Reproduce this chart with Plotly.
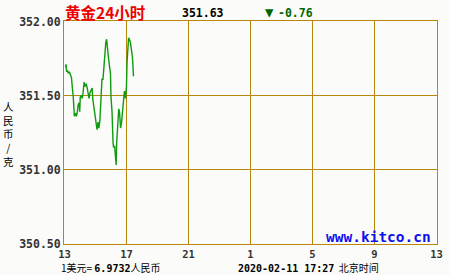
import plotly.graph_objects as go

# minutes after 13:00 (2020-02-10) and gold price (CNY/g)
minutes = [4, 6, 8, 11, 15, 19, 23, 27, 30, 34, 38, 42, 46, 50, 53, 57, 59, 61, 65, 69,
           72, 76, 80, 84, 88, 91, 95, 99, 103, 107, 110, 114, 118, 122, 126, 130, 133, 137, 139, 141,
           145, 149, 152, 156, 160, 163, 166, 170, 174, 178, 180, 184, 188, 190, 194, 198, 200, 202, 206, 210,
           213, 217, 221, 225, 229, 232, 236, 240, 242, 244, 248, 251, 255, 259, 263, 267]
prices = [351.69, 351.71, 351.66, 351.67, 351.65, 351.66, 351.64, 351.62, 351.56, 351.49,
          351.36, 351.38, 351.36, 351.39, 351.44, 351.45, 351.39, 351.49, 351.50, 351.48,
          351.52, 351.59, 351.56, 351.58, 351.55, 351.50, 351.48, 351.52, 351.54, 351.55,
          351.47, 351.41, 351.36, 351.30, 351.27, 351.32, 351.28, 351.33, 351.39, 351.47,
          351.61, 351.61, 351.69, 351.83, 351.86, 351.88, 351.81, 351.76, 351.70, 351.65,
          351.49, 351.39, 351.18, 351.15, 351.16, 351.06, 351.03, 351.18, 351.32, 351.41,
          351.39, 351.28, 351.32, 351.39, 351.49, 351.53, 351.48, 351.56, 351.72, 351.81,
          351.89, 351.88, 351.86, 351.81, 351.76, 351.63]

x_tickvals = [13, 17, 21, 25, 29, 33, 37]
x_ticktext = ["13", "17", "21", "1", "5", "9", "13"]
y_tickvals = [350.5, 351.0, 351.5, 352.0]

title_text = "黄金24小时"
last_price = "351.63"
change_text = "-0.76"
rate_text = "6.9732"
stamp_text = "2020-02-11 17:27"
ylabel_chars = ["人", "民", "币", "/", "克"]

hours = [13 + m / 60 for m in minutes]

GRID = "#b8860b"
MONO = "DejaVu Sans Mono"
CJK = "Noto Sans CJK SC"

# plot area 379 x 223 px: 63 px per 4 h, 74 px per 0.5; ticks sit on half pixels so 1px grid lines stay crisp
L, T, W, H = 64, 21, 379, 223
x_px_per_unit = 63 / 4
y_px_per_unit = 74 / 0.5
x_min = 13.0 - 0.5 / x_px_per_unit
x_max = x_min + W / x_px_per_unit
y_min = 350.5 - 0.5 / y_px_per_unit
y_max = y_min + H / y_px_per_unit


def py(pix):
    return (T + H - pix) / H


def px(pix):
    return (pix - L) / W


fig = go.Figure()
fig.add_trace(go.Scatter(x=hours, y=prices, mode="lines",
                         line=dict(color="#109a10", width=1.4), hoverinfo="skip"))

fig.update_layout(
    width=450, height=275,
    margin=dict(l=L, r=450 - L - W, t=T, b=275 - T - H),
    paper_bgcolor="#fbfcf9", plot_bgcolor="#fbfcf9",
    showlegend=False,
    xaxis=dict(range=[x_min, x_max], tickvals=x_tickvals, ticktext=x_ticktext,
               showgrid=True, gridcolor=GRID, gridwidth=1,
               showline=True, linecolor=GRID, linewidth=1, mirror=True,
               zeroline=False, ticks="", ticklen=0,
               tickfont=dict(family=MONO, size=10.5, color="#333333", weight="bold")),
    yaxis=dict(range=[y_min, y_max], tickvals=y_tickvals, tickformat=".2f",
               showgrid=True, gridcolor=GRID, gridwidth=1,
               showline=True, linecolor=GRID, linewidth=1, mirror=True,
               zeroline=False, ticks="", ticklen=0,
               tickfont=dict(family=MONO, size=11.5, color="#333333", weight="bold")),
)

ann = []
ann.append(dict(text="<b>" + title_text + "</b>", xref="paper", yref="paper", x=px(63), y=py(12),
                xanchor="left", yanchor="middle", showarrow=False,
                font=dict(family=CJK, size=15.5, color="#ee0000")))
ann.append(dict(text="<b>" + last_price + "</b>", xref="paper", yref="paper", x=px(205), y=py(12.5),
                xanchor="center", yanchor="middle", showarrow=False,
                font=dict(family=MONO, size=11.5, color="#000000")))
ann.append(dict(text="▼", xref="paper", yref="paper", x=px(272.5), y=py(12),
                xanchor="center", yanchor="middle", showarrow=False,
                font=dict(family=MONO, size=14, color="#006600")))
ann.append(dict(text="<b>" + change_text + "</b>", xref="paper", yref="paper", x=px(299), y=py(12.5),
                xanchor="center", yanchor="middle", showarrow=False,
                font=dict(family=MONO, size=11.5, color="#006600")))
ann.append(dict(text="1美元= <span style='font-family:DejaVu Sans Mono'><b>" + rate_text + "</b></span>人民币",
                xref="paper", yref="paper", x=px(59), y=py(267.3),
                xanchor="left", yanchor="middle", showarrow=False,
                font=dict(family=CJK, size=10, color="#000000")))
ann.append(dict(text="<span style='font-family:DejaVu Sans Mono'><b>" + stamp_text + "</b></span>  北京时间",
                xref="paper", yref="paper", x=px(239), y=py(267.3),
                xanchor="left", yanchor="middle", showarrow=False,
                font=dict(family=CJK, size=10, color="#000000")))
ann.append(dict(text="<b>www.kitco.cn</b>", xref="paper", yref="paper", x=px(439), y=py(237),
                xanchor="right", yanchor="middle", showarrow=False,
                font=dict(family=MONO, size=14.5, color="#1010ee")))
ann.append(dict(text="<br>".join(ylabel_chars), xref="paper", yref="paper", x=px(8), y=py(133.5),
                xanchor="center", yanchor="middle", showarrow=False,
                font=dict(family=CJK, size=10.5, color="#000000")))
fig.update_layout(annotations=ann)

fig.write_html("out.html")
